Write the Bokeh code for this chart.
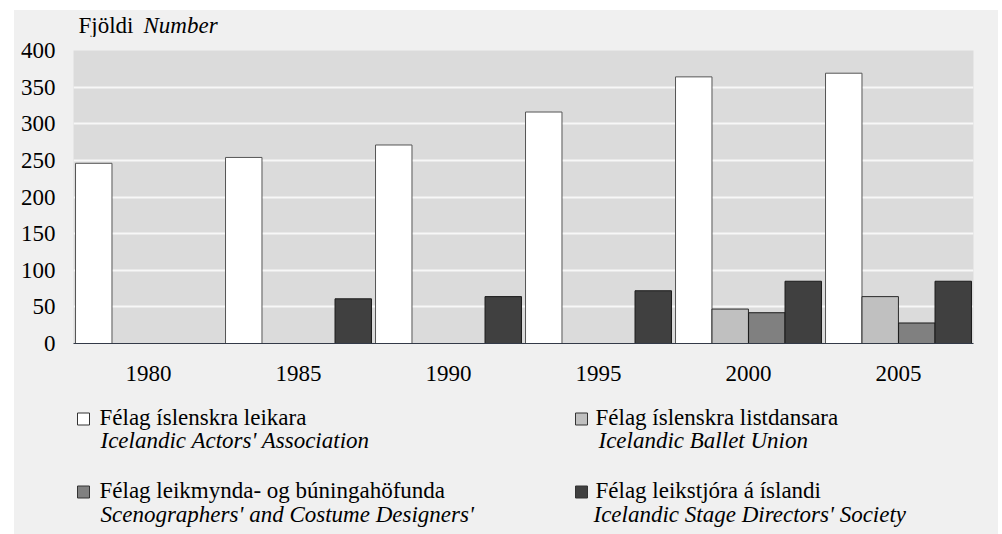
from bokeh.plotting import figure
from bokeh.models import FactorRange, Range1d, ColumnDataSource, SingleIntervalTicker, Spacer
from bokeh.transform import dodge
from bokeh.layouts import column, row
from bokeh.core.properties import value
from bokeh.embed import file_html
from bokeh.resources import INLINE

NaN = float("nan")

years = ["1980", "1985", "1990", "1995", "2000", "2005"]
actors = [246, 254, 271, 316, 364, 369]
ballet = [NaN, NaN, NaN, NaN, 47, 64]
scenographers = [NaN, NaN, NaN, NaN, 42, 28]
directors = [NaN, 61, 64, 72, 85, 85]

series_is = ["Félag íslenskra leikara", "Félag íslenskra listdansara",
             "Félag leikmynda- og búningahöfunda", "Félag leikstjóra á íslandi"]
series_en = ["Icelandic Actors' Association", "Icelandic Ballet Union",
             "Scenographers' and Costume Designers'", "Icelandic Stage Directors' Society"]
title_is = "Fjöldi"
title_en = "Number"
fills = ["#ffffff", "#c0c0c0", "#808080", "#404040"]
edges = ["#555555", "#2a2a2a", "#1a1a1a", "#1a1a1a"]

FONT = "Liberation Serif"
FS = "23px"
BG = "#f0f0f0"
W = 984
BL, BR = 59, 25   # frame spans page x 73..973


def panel(height, y0, y1):
    f = figure(width=W, height=height, x_range=Range1d(73, 973), y_range=Range1d(y1, y0),
               output_backend="svg", toolbar_location=None, x_axis_type=None, y_axis_type=None,
               min_border_left=BL, min_border_right=BR, min_border_top=0, min_border_bottom=0)
    f.background_fill_color = BG
    f.border_fill_color = BG
    f.outline_line_color = None
    f.grid.visible = False
    return f


# header (page y 10..37)
hd = panel(27, 10, 37)
hd.text(x=[78], y=[24.5], text=[title_is], text_font=value(FONT), text_font_size=FS,
        text_baseline="middle", text_color="#000000")
hd.text(x=[143], y=[24.5], text=[title_en], text_font=value(FONT), text_font_size=FS,
        text_font_style="italic", text_baseline="middle", text_color="#000000")

# main chart (page y 37..400, frame 50..343)
src = ColumnDataSource(dict(years=years, actors=actors, ballet=ballet,
                            scenographers=scenographers, directors=directors))
p = figure(width=W, height=363, x_range=FactorRange(*years, range_padding=0),
           y_range=Range1d(0, 400), output_backend="svg", toolbar_location=None,
           min_border_left=BL, min_border_right=BR, min_border_top=13, min_border_bottom=57)
p.background_fill_color = "#dbdbdb"
p.border_fill_color = BG
p.outline_line_color = None

cols = ["actors", "ballet", "scenographers", "directors"]
offs = [-0.365, -0.122, 0.122, 0.365]
for c, o, f, e in zip(cols, offs, fills, edges):
    p.vbar(x=dodge("years", o, range=p.x_range), top=c, bottom=0, width=0.243,
           source=src, fill_color=f, line_color=e, line_width=1)

p.xgrid.grid_line_color = None
p.ygrid.grid_line_color = "#f7f7f7"
p.ygrid.grid_line_width = 2
p.yaxis.ticker = SingleIntervalTicker(interval=50)

for ax in (p.xaxis, p.yaxis):
    ax.major_tick_line_color = None
    ax.minor_tick_line_color = None
    ax.major_label_text_font = FONT
    ax.major_label_text_font_size = FS
    ax.major_label_text_color = "#000000"
p.yaxis.axis_line_color = None
p.yaxis.major_label_standoff = 12
p.xaxis.axis_line_color = "#333a48"
p.xaxis.axis_line_width = 1
p.xaxis.major_label_standoff = 16

# legend (page y 400..534)
lg = panel(134, 400, 534)
sq_x = [83, 581, 83, 581]
sq_y = [418.5, 418.5, 491.5, 491.5]
t1_x = [99, 595, 99, 595]
t1_y = [417, 417, 490, 490]
t2_x = [100, 598, 100, 593]
t2_y = [440, 440, 514, 514]
lg.scatter(x=sq_x, y=sq_y, marker="square", size=12, fill_color=fills,
           line_color="#333333", line_width=1)
lg.text(x=t1_x, y=t1_y, text=series_is, text_font=value(FONT), text_font_size=FS,
        text_baseline="middle", text_color="#000000")
lg.text(x=t2_x, y=t2_y, text=series_en, text_font=value(FONT), text_font_size=FS,
        text_font_style="italic", text_baseline="middle", text_color="#000000")

inner = column(hd, p, lg, spacing=0, styles={"background-color": BG})
layout = column(Spacer(height=10),
                row(Spacer(width=14), inner, spacing=0),
                spacing=0)
open("out.html", "w").write(file_html(layout, INLINE))
